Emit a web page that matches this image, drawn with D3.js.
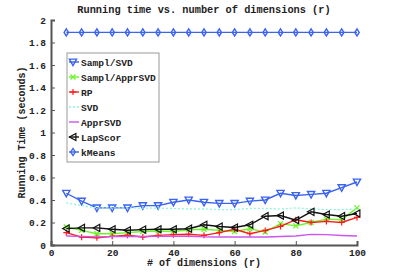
<!DOCTYPE html>
<html>
<head>
<meta charset="utf-8">
<script src="https://cdn.jsdelivr.net/npm/d3@7"></script>
<style>
  body { margin: 0; background: #fff; }
</style>
</head>
<body>
<svg></svg>
<script>
var dims = [5,10,15,20,25,30,35,40,45,50,55,60,65,70,75,80,85,90,95,100];

var samplSVD     = [0.46,0.39,0.33,0.33,0.33,0.35,0.35,0.38,0.40,0.38,0.37,0.37,0.39,0.40,0.46,0.44,0.45,0.46,0.51,0.56];
var samplApprSVD = [0.16,0.13,0.10,0.10,0.11,0.12,0.125,0.12,0.135,0.14,0.13,0.12,0.145,0.115,0.19,0.17,0.20,0.23,0.225,0.33];
var rp           = [0.11,0.07,0.065,0.077,0.086,0.071,0.086,0.092,0.095,0.086,0.11,0.14,0.10,0.13,0.165,0.225,0.20,0.21,0.20,0.245];
var svd          = [0.375,0.35,0.33,0.33,0.33,0.328,0.328,0.325,0.32,0.32,0.315,0.315,0.325,0.325,0.32,0.33,0.32,0.315,0.315,0.32];
var apprSVD      = [0.08,0.077,0.072,0.074,0.077,0.075,0.077,0.078,0.078,0.072,0.071,0.071,0.071,0.071,0.075,0.08,0.094,0.092,0.085,0.08];
var lapScor      = [0.146,0.152,0.152,0.14,0.131,0.137,0.14,0.14,0.145,0.18,0.164,0.155,0.18,0.256,0.262,0.22,0.295,0.271,0.256,0.28];
var kMeans       = [1.89,1.89,1.89,1.89,1.89,1.89,1.89,1.89,1.89,1.89,1.89,1.89,1.89,1.89,1.89,1.89,1.89,1.89,1.89,1.89];

var xTicks = [0,20,40,60,80,100];
var yTicks = [0,0.2,0.4,0.6,0.8,1,1.2,1.4,1.6,1.8,2];

var series = [
  {name:"Sampl/SVD",     values:samplSVD,     color:"#3a63f0", marker:"tri-down"},
  {name:"Sampl/ApprSVD", values:samplApprSVD, color:"#6cf52a", marker:"x"},
  {name:"RP",            values:rp,           color:"#ff1a1a", marker:"plus"},
  {name:"SVD",           values:svd,          color:"#8ef5dc", marker:"none", dash:"2,2"},
  {name:"ApprSVD",       values:apprSVD,      color:"#cc55ee", marker:"none"},
  {name:"LapScor",       values:lapScor,      color:"#111111", marker:"tri-left"},
  {name:"kMeans",        values:kMeans,       color:"#3a63f0", marker:"diamond"}
];

var FONT = "'Liberation Mono', 'Courier New', Courier, 'DejaVu Sans Mono', monospace";

var w = 395, h = 275;
var padding = {top: 20, bottom: 30, left: 51, right: 38};

var svg = d3.select("svg").attr("width", w).attr("height", h);

var x = d3.scaleLinear().domain([0,100]).range([padding.left, w - padding.right]);
var y = d3.scaleLinear().domain([0,2]).range([h - padding.bottom, padding.top]);

// axes (matlab style, ticks inside)
var xAxis = d3.axisBottom(x).tickValues(xTicks).tickSize(-4).tickPadding(4);
var yAxis = d3.axisLeft(y).tickValues(yTicks).tickSize(-4).tickPadding(5)
  .tickFormat(function(d){ return d3.format("~g")(d); });

svg.append("g").attr("class","x axis")
  .attr("transform","translate(0," + y(0) + ")")
  .call(xAxis);
svg.append("g").attr("class","y axis")
  .attr("transform","translate(" + x(0) + ",0)")
  .call(yAxis);

svg.selectAll(".axis").attr("font-family", null);
svg.selectAll(".axis .domain").attr("stroke","#555").attr("stroke-width",2);
svg.selectAll(".axis .tick line").attr("stroke","#555");
svg.selectAll(".axis text").attr("fill","#222");

// title and labels
svg.append("text")
  .attr("x", (x(0) + x(100)) / 2).attr("y", 13)
  .attr("text-anchor","middle").style("font-size","10.3px")
  .text("Running time vs. number of dimensions (r)");

svg.append("text")
  .attr("x", (x(0) + x(100)) / 2).attr("y", 266)
  .attr("text-anchor","middle").style("font-size","10px")
  .text("# of dimensions (r)");

svg.append("text")
  .attr("transform","translate(25," + ((y(0) + y(2)) / 2) + ") rotate(-90)")
  .attr("text-anchor","middle").style("font-size","10px")
  .text("Running Time (seconds)");

function drawMarker(g, type, color, cx, cy) {
  var s = 3.6;
  if (type === "tri-down") {
    g.append("path").attr("d","M" + (cx - s) + "," + (cy - s*0.8) + "L" + (cx + s) + "," + (cy - s*0.8) + "L" + cx + "," + (cy + s) + "Z")
      .attr("fill","none").attr("stroke",color).attr("stroke-width",1.4);
  } else if (type === "tri-left") {
    g.append("path").attr("d","M" + (cx + s*0.8) + "," + (cy - s) + "L" + (cx + s*0.8) + "," + (cy + s) + "L" + (cx - s) + "," + cy + "Z")
      .attr("fill","none").attr("stroke",color).attr("stroke-width",1.2);
  } else if (type === "plus") {
    g.append("path").attr("d","M" + (cx - 3) + "," + cy + "H" + (cx + 3) + "M" + cx + "," + (cy - 3) + "V" + (cy + 3))
      .attr("stroke",color).attr("stroke-width",1.2);
  } else if (type === "x") {
    g.append("path").attr("d","M" + (cx - 2.5) + "," + (cy - 2.5) + "L" + (cx + 2.5) + "," + (cy + 2.5) + "M" + (cx - 2.5) + "," + (cy + 2.5) + "L" + (cx + 2.5) + "," + (cy - 2.5))
      .attr("stroke",color).attr("stroke-width",1.3);
  } else if (type === "diamond") {
    g.append("path").attr("d","M" + cx + "," + (cy - 3.5) + "L" + (cx + 2.2) + "," + cy + "L" + cx + "," + (cy + 3.5) + "L" + (cx - 2.2) + "," + cy + "Z")
      .attr("fill","none").attr("stroke",color).attr("stroke-width",1.4);
  }
}

var line = d3.line()
  .x(function(d,i){ return x(dims[i]); })
  .y(function(d){ return y(d); });

series.forEach(function(s){
  var g = svg.append("g").attr("class","series");
  g.append("path")
    .attr("d", line(s.values))
    .attr("fill","none")
    .attr("stroke", s.color)
    .attr("stroke-width", s.dash ? 1.3 : 1.4)
    .attr("stroke-dasharray", s.dash || null);
  if (s.marker !== "none") {
    s.values.forEach(function(v,i){ drawMarker(g, s.marker, s.color, x(dims[i]), y(v)); });
  }
});

// Legend
var legend = svg.append("g").attr("transform","translate(67,53)");
legend.append("rect")
  .attr("width", 92).attr("height", 109)
  .attr("fill","#fff").attr("stroke","#999").attr("stroke-width",1);

var items = legend.selectAll(".legend-item")
  .data(series).enter()
  .append("g").attr("class","legend-item")
  .attr("transform", function(d,i){ return "translate(0," + (9 + i * 15) + ")"; });

items.append("line")
  .attr("x1", 2).attr("x2", 12).attr("y1", 0).attr("y2", 0)
  .attr("stroke", function(d){ return d.color; })
  .attr("stroke-width", 1.4)
  .attr("stroke-dasharray", function(d){ return d.dash || null; });

items.each(function(d){ drawMarker(d3.select(this), d.marker, d.color, 6, 0); });

items.append("text")
  .attr("x", 14).attr("y", 3.5)
  .style("font-size","9.6px")
  .text(function(d){ return d.name; });

// monospace bold everywhere
svg.selectAll("text")
  .style("font-family", FONT)
  .style("font-weight", "bold")
  .attr("fill", "#222");
svg.selectAll(".axis text").style("font-size", "9.5px");
</script>
</body>
</html>
